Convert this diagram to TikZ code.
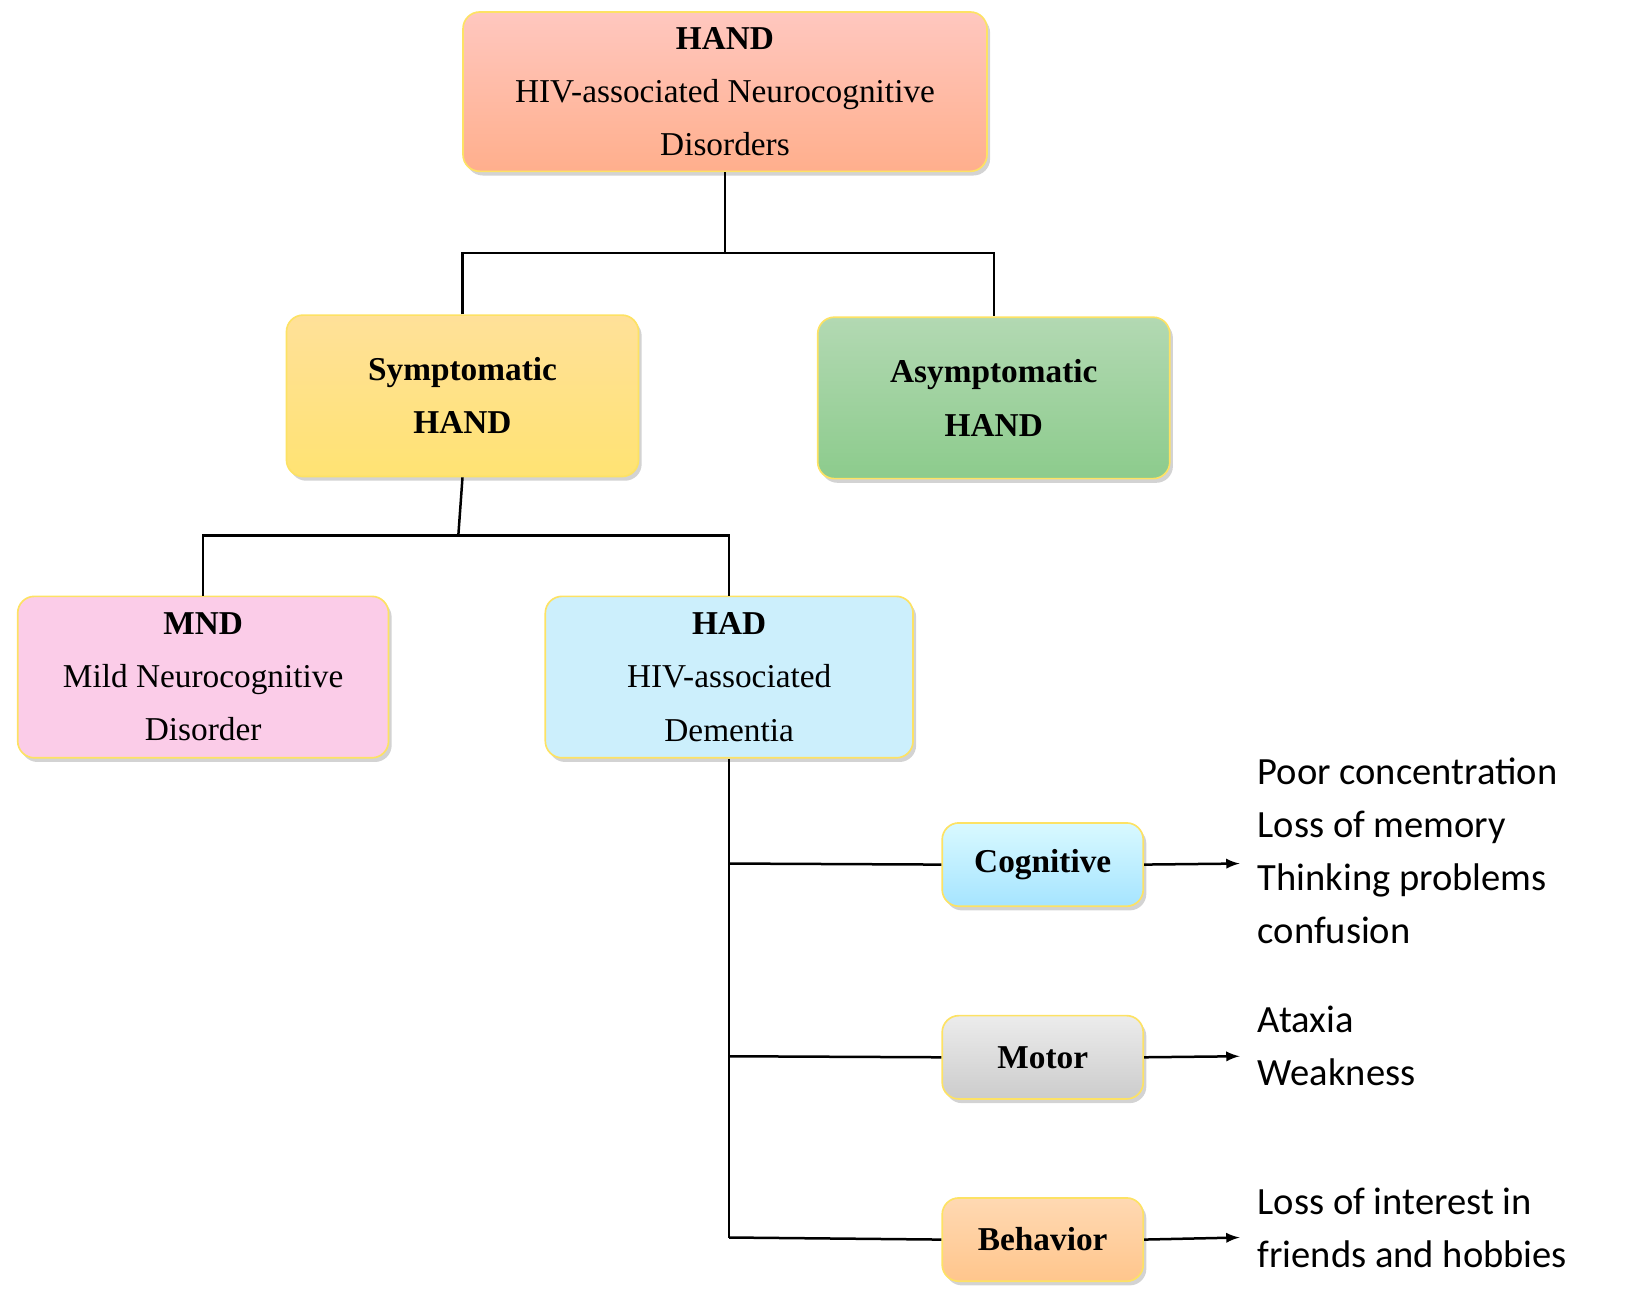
\documentclass[tikz,border=0pt]{standalone}
\usepackage{fontspec}
\setmainfont{Liberation Serif}
\newfontfamily\carfont{Carlito}
\usetikzlibrary{shadows}
\begin{document}
\begin{tikzpicture}[x=0.5pt,y=-0.5pt,
 box/.style={draw=yellow!70!orange!60, line width=0.8pt, rounded corners=8pt, align=center, font=\fontsize{16}{25.5}\selectfont, drop shadow={shadow xshift=1.5pt,shadow yshift=-2pt,opacity=0.35}, inner sep=0pt},
 ln/.style={line width=1.2pt},
 side/.style={anchor=north west, align=left, font=\carfont\fontsize{18.5}{25.5}\selectfont, inner sep=0pt}]
\useasboundingbox (0,0) rectangle (1560,1242);
\node[box, minimum width=251.5pt, minimum height=76.5pt, top color=orange!25!red!25, bottom color=orange!60!red!45] (hand) at (696,88) {\textbf{HAND}\\HIV-associated Neurocognitive\\Disorders};
\node[box, minimum width=169pt, minimum height=77.5pt, top color=yellow!40!orange!40, bottom color=yellow!60!orange!55] (sym) at (444,380) {\textbf{Symptomatic}\\\textbf{HAND}};
\node[box, minimum width=169pt, minimum height=77.5pt, top color=green!50!black!30!white, bottom color=green!55!black!45!white] (asym) at (954,382) {\textbf{Asymptomatic}\\\textbf{HAND}};
\node[box, minimum width=178pt, minimum height=77.5pt, fill=magenta!20] (mnd) at (195,650) {\textbf{MND}\\Mild Neurocognitive\\Disorder};
\node[box, minimum width=176.5pt, minimum height=77.5pt, fill=cyan!20] (had) at (700,650) {\textbf{HAD}\\HIV-associated\\Dementia};
\node[box, minimum width=96.5pt, minimum height=40pt, top color=blue!15!cyan!15, bottom color=blue!30!cyan!35] (cog) at (1001,830) {\textbf{Cognitive}};
\node[box, minimum width=96.5pt, minimum height=40pt, top color=gray!15, bottom color=gray!40] (mot) at (1001,1015) {\textbf{Motor}};
\node[box, minimum width=96.5pt, minimum height=40pt, top color=orange!30, bottom color=orange!45] (beh) at (1001,1190) {\textbf{Behavior}};
\draw[ln] (hand.south) -- (696,243) coordinate (j1);
\draw[ln] (sym.north) |- (j1) -| (asym.north);
\draw[ln] (sym.south) -- (440,514) coordinate (j2);
\draw[ln] (mnd.north) |- (j2) -| (had.north);
\draw[ln] (had.south) -- (700,1188) coordinate (j3);
\draw[ln] (700,829) -- (cog.west);
\draw[ln] (700,1014) -- (mot.west);
\draw[ln] (j3) -- (beh.west);
\coordinate (a1) at (1190,829);
\coordinate (a2) at (1190,1014);
\coordinate (a3) at (1190,1188);
\draw[ln,-latex] (cog.east) -- (a1);
\draw[ln,-latex] (mot.east) -- (a2);
\draw[ln,-latex] (beh.east) -- (a3);
\node[side] (t1) at (1207,727) {Poor concentration\\Loss of memory\\Thinking problems\\confusion};
\node[side] (t2) at (1207,965) {Ataxia\\Weakness};
\node[side] (t3) at (1207,1140) {Loss of interest in\\friends and hobbies};
\end{tikzpicture}
\end{document}
